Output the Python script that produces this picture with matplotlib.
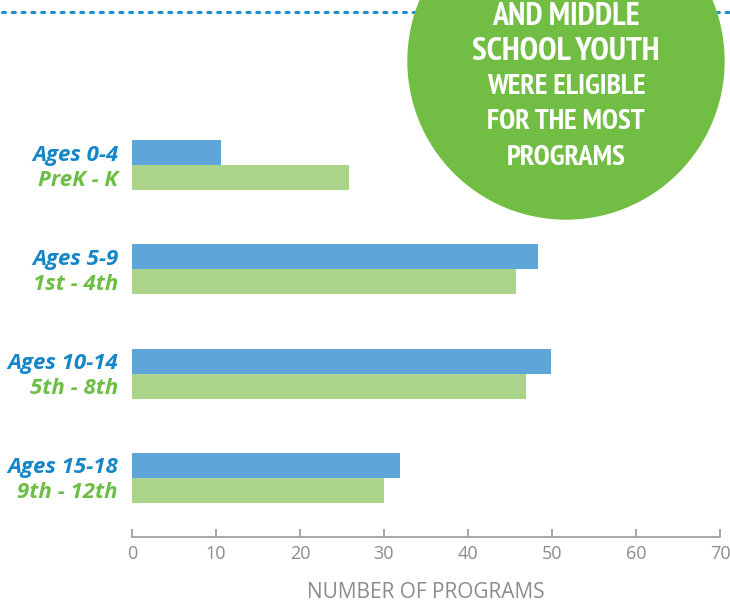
import matplotlib
matplotlib.use("Agg")
import matplotlib.pyplot as plt
import numpy as np
from matplotlib.patches import Circle
from matplotlib import font_manager

age_labels = ["Ages 0-4", "Ages 5-9", "Ages 10-14", "Ages 15-18"]
grade_labels = ["PreK - K", "1st - 4th", "5th - 8th", "9th - 12th"]
age_values = [10.6, 48.3, 49.9, 31.9]
grade_values = [25.8, 45.7, 46.9, 30.0]
x_ticks = [0, 10, 20, 30, 40, 50, 60, 70]
x_label = "NUMBER OF PROGRAMS"
callout_lines = ["AND MIDDLE", "SCHOOL YOUTH", "WERE ELIGIBLE", "FOR THE MOST", "PROGRAMS"]

BLUE_BAR = "#5EA6DA"
GREEN_BAR = "#ABD48A"
BLUE_TXT = "#1586C8"
GREEN_TXT = "#6DBE45"
CIRCLE = "#72BE44"
GRAY = "#8C8C8C"

cond_file = None
for f in font_manager.findSystemFonts():
    name = f.lower()
    if "narrow" in name and "bold" in name and "italic" not in name:
        cond_file = f
        break
if cond_file is None:
    for f in font_manager.findSystemFonts():
        name = f.lower()
        if "condensed" in name and "bold" in name and "oblique" not in name and "italic" not in name:
            cond_file = f
            break

W, H = 730, 604
fig = plt.figure(figsize=(W / 100, H / 100), dpi=100)
fig.patch.set_facecolor("white")

ax_left = 132 / W
ax_right = 720 / W
ax_bottom = (H - 537) / H
ax_top = (H - 20) / H
ax = fig.add_axes([ax_left, ax_bottom, ax_right - ax_left, ax_top - ax_bottom])

group_px = 104.3
bar_h = 25 / group_px
n = len(age_labels)
centers = np.arange(n)
y_bottom = (n - 1) + (537 - 478) / group_px
y_top = y_bottom - (537 - 20) / group_px

ax.barh(centers - bar_h / 2, age_values, height=bar_h, color=BLUE_BAR, zorder=2)
ax.barh(centers + bar_h / 2, grade_values, height=bar_h, color=GREEN_BAR, zorder=2)

ax.set_xlim(0, 70)
ax.set_ylim(y_bottom, y_top)

for s in ["top", "right", "left"]:
    ax.spines[s].set_visible(False)
ax.spines["bottom"].set_color("#9A9A9A")
ax.spines["bottom"].set_linewidth(1.2)

ax.set_xticks(x_ticks)
ax.set_xticklabels([str(t) for t in x_ticks], fontsize=13, color=GRAY, family="Open Sans")
ax.tick_params(axis="x", direction="in", length=6, width=1.2, color="#9A9A9A", pad=6)

yt = list(centers - bar_h / 2) + list(centers + bar_h / 2)
yl = age_labels + grade_labels
ax.set_yticks(yt)
ax.set_yticklabels(yl)
ax.tick_params(axis="y", length=0, pad=10)
for i, lab in enumerate(ax.get_yticklabels()):
    lab.set_fontfamily("Open Sans")
    lab.set_fontweight("bold")
    lab.set_fontstyle("italic")
    lab.set_fontsize(16)
    lab.set_color(BLUE_TXT if i < n else GREEN_TXT)

fig.text(426 / W, 1 - 593 / H, x_label, ha="center", va="center",
         fontsize=15, color=GRAY, family="Open Sans")

ov = fig.add_axes([0, 0, 1, 1], zorder=5)
ov.set_xlim(0, W)
ov.set_ylim(H, 0)
ov.axis("off")
ov.patch.set_alpha(0)
ov.plot([2, W], [12, 12], linestyle=(0, (1, 2.2)), color="#1B8FD2", linewidth=2.2,
        dash_capstyle="round", zorder=1)
ov.add_patch(Circle((566, 61), 158, color=CIRCLE, zorder=2))
line_base = [25, 60, 94, 129, 165]
sizes = [23, 24, 21, 21, 21]
for t, yy, sz in zip(callout_lines, line_base, sizes):
    if cond_file:
        fp = font_manager.FontProperties(fname=cond_file, size=sz)
        ov.text(566, yy, t, ha="center", va="baseline", color="white",
                fontproperties=fp, zorder=3)
    else:
        ov.text(566, yy, t, ha="center", va="baseline", color="white", fontsize=sz - 5,
                fontweight="bold", family="DejaVu Sans", fontstretch="condensed", zorder=3)

fig.savefig("out.png", dpi=100)
